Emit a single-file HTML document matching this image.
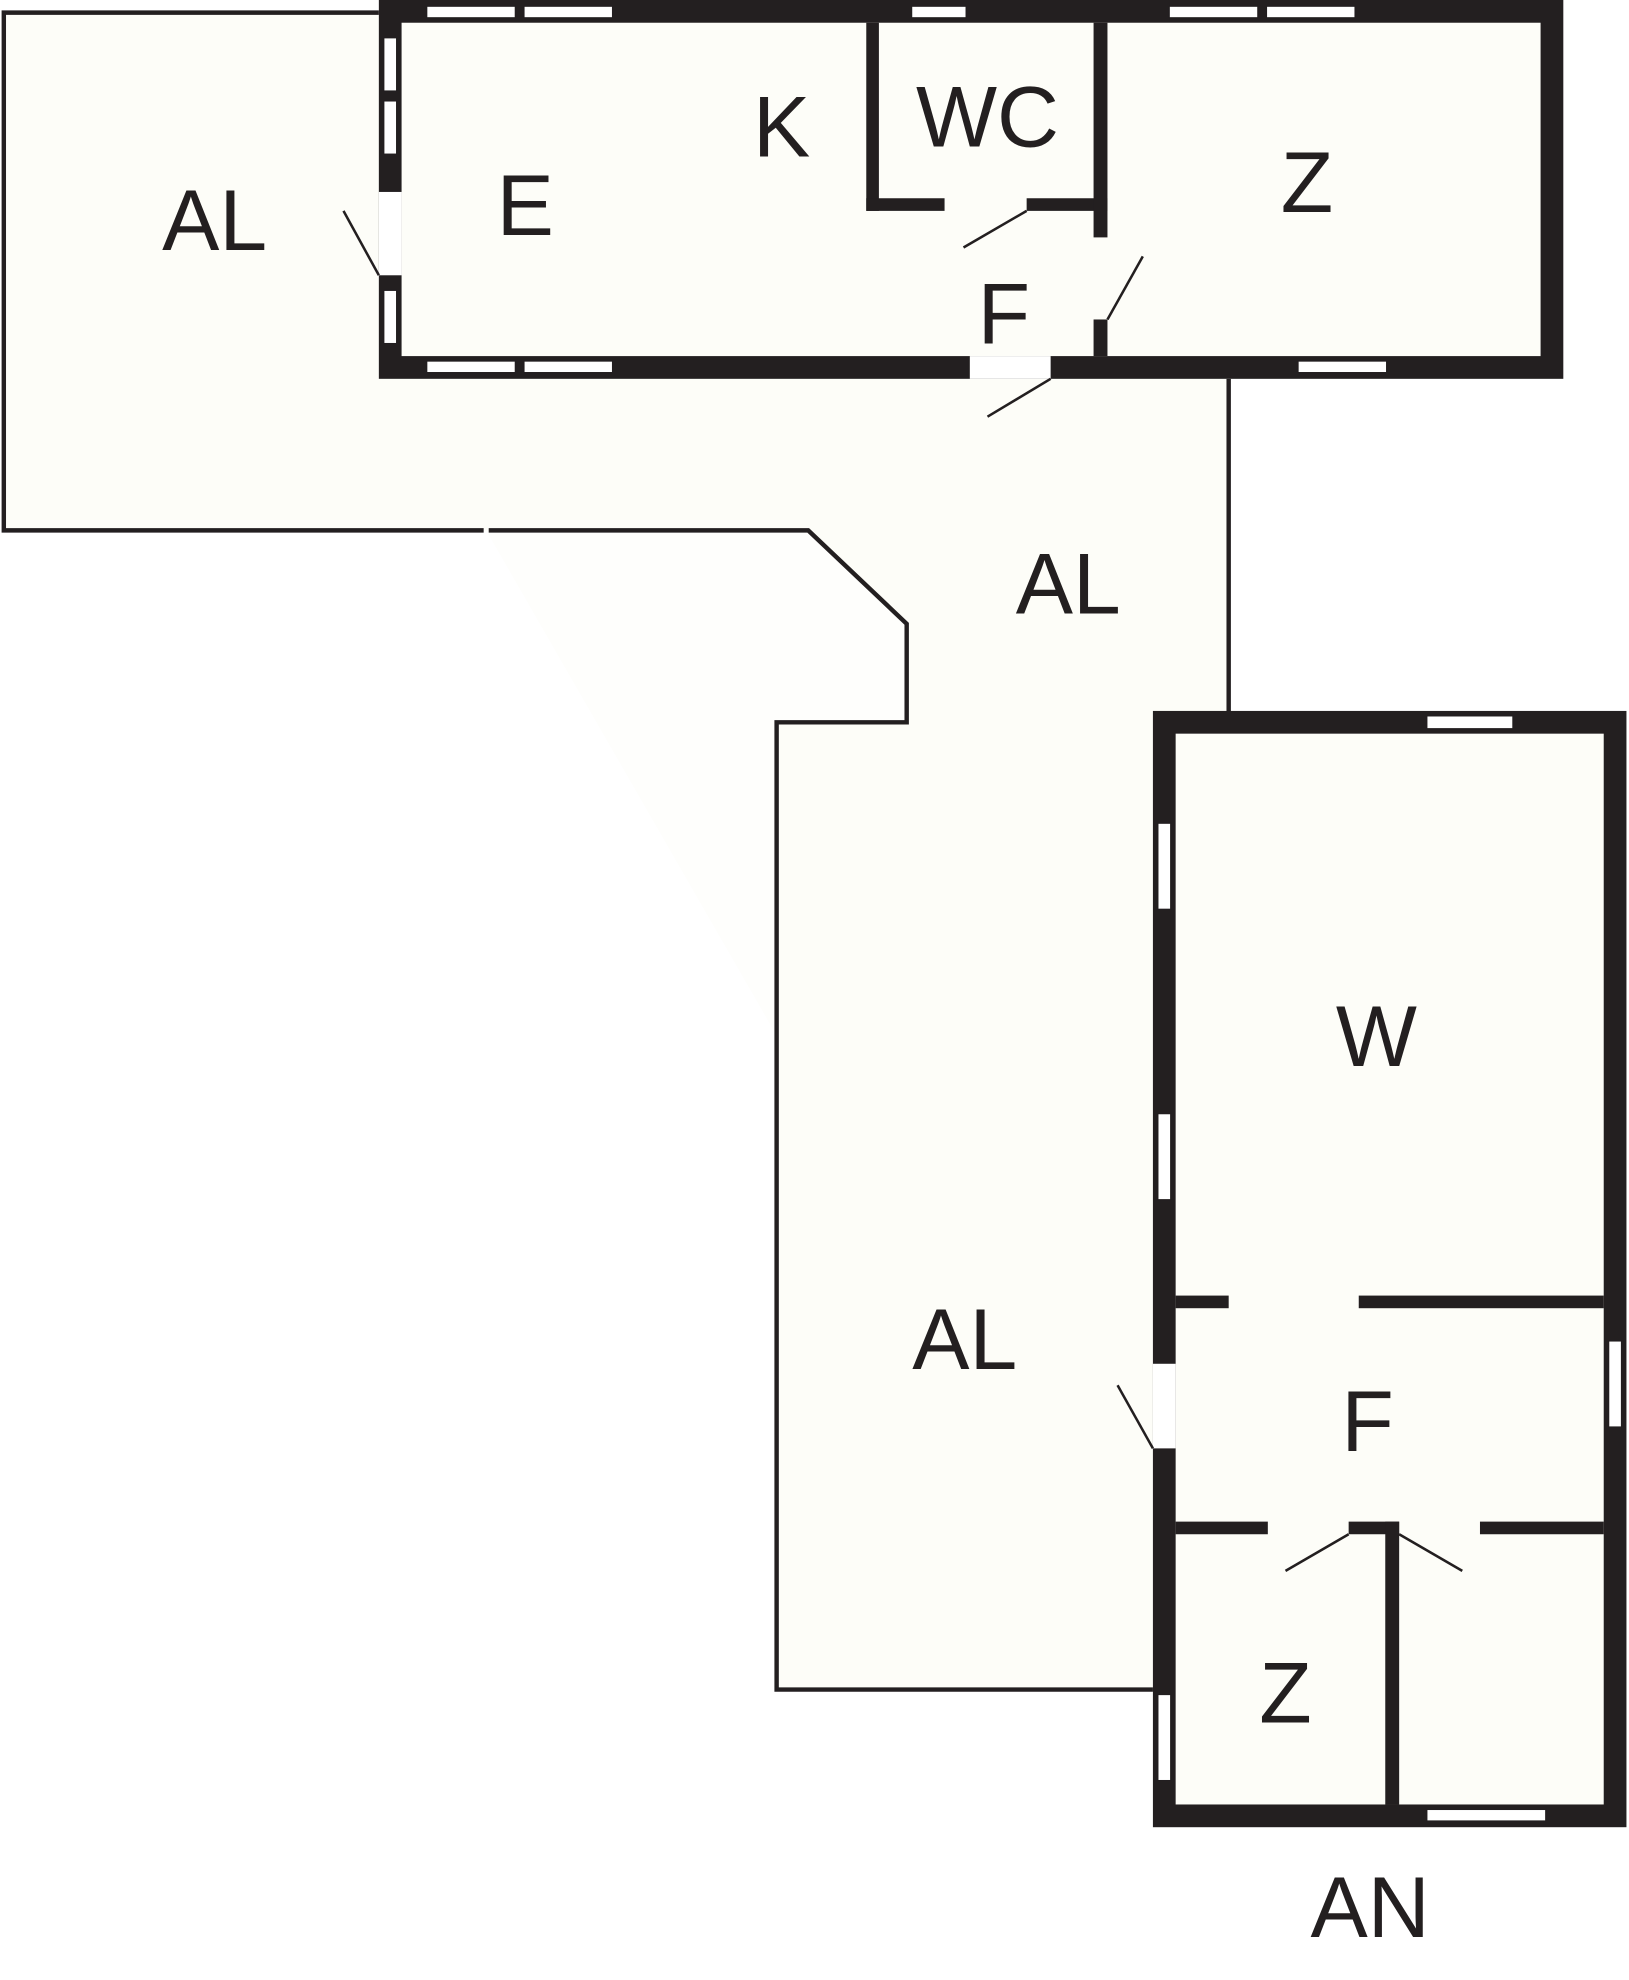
<!DOCTYPE html>
<html><head><meta charset="utf-8"><style>html,body{margin:0;padding:0;background:#fff;}svg{display:block}</style></head>
<body>
<svg width="1629" height="1980" viewBox="0 0 1290 1568" xmlns="http://www.w3.org/2000/svg">
<rect width="1290" height="1568" fill="#fff"/>
<!-- yard fill -->
<polygon points="3,10 300,10 300,300 973,300 973,565 915,565 915,1338 615,1338 615,572 718,572 718,494 640,420 3,420" fill="#fdfdf8"/>
<polygon points="385,420 640,420 718,494 718,572 615,572 615,820" fill="#fefefc"/>
<!-- yard outline -->
<g fill="none" stroke="#231f20" stroke-width="3.5">
<polyline points="300,10 3,10 3,420 383,420"/>
<polyline points="387,420 640,420 718,494 718,572 615,572 615,1338 913,1338"/>
<line x1="973" y1="300" x2="973" y2="565"/>
</g>
<!-- upper building -->
<rect x="300" y="0" width="938" height="300" fill="#231f20"/>
<rect x="318" y="18" width="902" height="264" fill="#fdfdf8"/>
<g fill="#231f20">
<rect x="686" y="18" width="10" height="149"/>
<rect x="686" y="157" width="62" height="10"/>
<rect x="813" y="157" width="64" height="10"/>
<rect x="866" y="18" width="11" height="170"/>
<rect x="866" y="253" width="11" height="29"/>
</g>
<g fill="#fff">
<rect x="300" y="152" width="18" height="66"/>
<rect x="768" y="282" width="64" height="18"/>
</g>
<g fill="#fff" stroke="#231f20" stroke-width="0.8">
<rect x="338" y="5" width="70" height="9"/><rect x="415" y="5" width="70" height="9"/>
<rect x="722" y="5" width="43" height="9"/><rect x="926" y="5" width="70" height="9"/><rect x="1003" y="5" width="70" height="9"/>
<rect x="338" y="286" width="70" height="9"/><rect x="415" y="286" width="70" height="9"/><rect x="1028" y="286" width="70" height="9"/>
<rect x="304" y="30" width="10" height="42"/><rect x="304" y="80" width="10" height="42"/><rect x="304" y="230" width="10" height="42"/>
</g>
<g stroke="#231f20" stroke-width="2">
<line x1="300" y1="218" x2="272" y2="167"/>
<line x1="813" y1="167" x2="763" y2="196"/>
<line x1="877" y1="253" x2="905" y2="203"/>
<line x1="832" y1="300" x2="782" y2="330"/>
</g>
<!-- lower building -->
<rect x="913" y="563" width="375" height="884" fill="#231f20"/>
<rect x="931" y="581" width="339" height="848" fill="#fdfdf8"/>
<g fill="#231f20">
<rect x="931" y="1026" width="42" height="10"/>
<rect x="1076" y="1026" width="194" height="10"/>
<rect x="931" y="1205" width="73" height="10"/>
<rect x="1068" y="1205" width="40" height="10"/>
<rect x="1172" y="1205" width="98" height="10"/>
<rect x="1097" y="1205" width="11" height="224"/>
</g>
<rect x="913" y="1080" width="18" height="67" fill="#fff"/>
<g fill="#fff" stroke="#231f20" stroke-width="0.8">
<rect x="1130" y="567" width="68" height="10"/>
<rect x="917" y="652" width="10" height="68"/><rect x="917" y="882" width="10" height="68"/><rect x="917" y="1342" width="10" height="68"/>
<rect x="1274" y="1062" width="10" height="68"/>
<rect x="1130" y="1433" width="94" height="9"/>
</g>
<g stroke="#231f20" stroke-width="2">
<line x1="913" y1="1147" x2="885" y2="1097"/>
<line x1="1068" y1="1215" x2="1018" y2="1244"/>
<line x1="1108" y1="1215" x2="1158" y2="1244"/>
</g>
<!-- labels -->
<g font-family="Liberation Sans, sans-serif" font-size="68" fill="#231f20" text-anchor="middle">
<text x="170" y="198">AL</text>
<text x="416" y="186">E</text>
<text x="619" y="124">K</text>
<text x="782" y="116">WC</text>
<text x="1035" y="168">Z</text>
<text x="795" y="272">F</text>
<text x="846" y="486">AL</text>
<text x="1090" y="844">W</text>
<text x="764" y="1084">AL</text>
<text x="1083" y="1149">F</text>
<text x="1018" y="1364">Z</text>
<text x="1085" y="1534">AN</text>
</g>
</svg>
</body></html>
